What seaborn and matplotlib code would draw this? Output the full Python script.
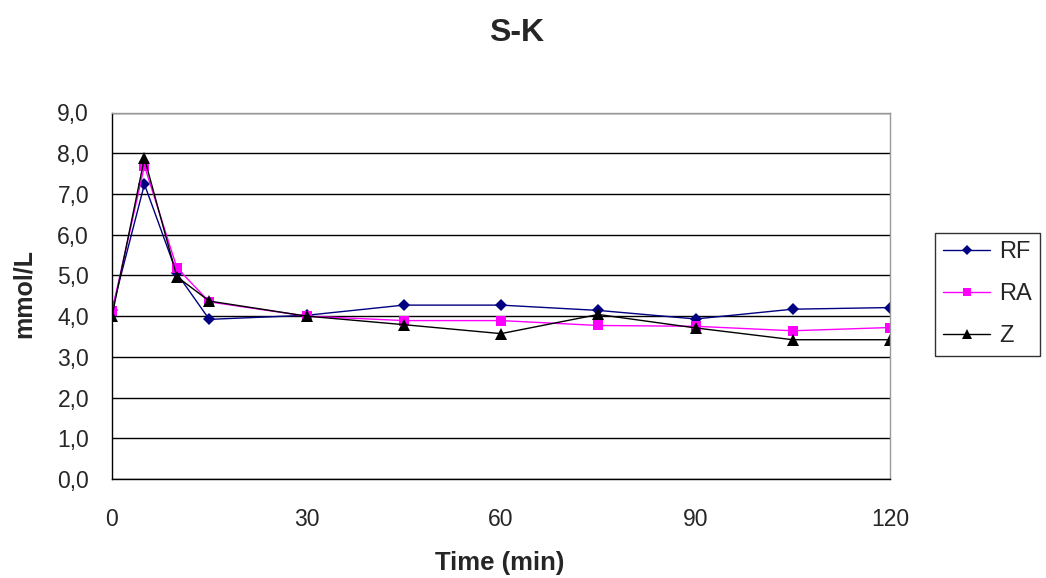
import matplotlib
matplotlib.use("Agg")
import matplotlib.pyplot as plt
import seaborn as sns
import pandas as pd

time_min = [0, 5, 10, 15, 30, 45, 60, 75, 90, 105, 120]
rf = [4.15, 7.24, 5.05, 3.92, 4.02, 4.27, 4.27, 4.14, 3.93, 4.17, 4.21]
ra = [4.12, 7.69, 5.19, 4.35, 4.0, 3.89, 3.89, 3.77, 3.75, 3.64, 3.72]
z = [4.0, 7.88, 4.97, 4.37, 4.0, 3.79, 3.57, 4.04, 3.71, 3.42, 3.42]
series_names = ["RF", "RA", "Z"]
y_ticks = [0, 1, 2, 3, 4, 5, 6, 7, 8, 9]
x_ticks = [0, 30, 60, 90, 120]

df = pd.concat([
    pd.DataFrame({"Time": time_min, "Value": vals, "Series": name})
    for name, vals in zip(series_names, [rf, ra, z])
])

sns.set_theme(style="white")
plt.rcParams["font.family"] = ["Liberation Sans", "DejaVu Sans"]

W, H = 1046, 578
fig = plt.figure(figsize=(W / 100, H / 100), dpi=100)
left, right, top, bottom = 112, 890, 112.5, 479
ax = fig.add_axes([left / W, 1 - bottom / H, (right - left) / W, (bottom - top) / H])

palette = {"RF": "#000080", "RA": "#FF00FF", "Z": "#000000"}
markers = {"RF": "D", "RA": "s", "Z": "^"}
sizes = {"RF": 6.5, "RA": 7, "Z": 8.5}
for name in series_names:
    sub = df[df["Series"] == name]
    sns.lineplot(data=sub, x="Time", y="Value", ax=ax, color=palette[name],
                 marker=markers[name], markersize=sizes[name], markeredgewidth=0,
                 linewidth=1.0, label=name)

ax.set_xlim(0, 120)
ax.set_ylim(0, 9)
ax.set_yticks(y_ticks)
ax.set_yticklabels([f"{v:.1f}".replace(".", ",") for v in y_ticks], fontsize=16.5)
ax.set_xticks(x_ticks)
ax.set_xticklabels([str(v) for v in x_ticks], fontsize=16.5)
ax.tick_params(axis="y", direction="out", length=6.5, width=1, color="black", pad=10)
ax.tick_params(axis="x", direction="out", length=6, width=1, color="black", pad=15)
ax.yaxis.grid(True, color="black", linewidth=1.0)
ax.set_axisbelow(True)

for side in ["left", "bottom"]:
    ax.spines[side].set_color("black")
    ax.spines[side].set_linewidth(1.0)
for side in ["top", "right"]:
    ax.spines[side].set_color("#999999")
    ax.spines[side].set_linewidth(1.0)

ax.set_xlabel("")
ax.set_ylabel("")
fig.text(500 / W, 1 - 563 / H, "Time (min)", ha="center", va="center", fontsize=18.5, fontweight="bold")
fig.text(24 / W, 1 - 294 / H, "mmol/L", ha="center", va="center", rotation=90, fontsize=18, fontweight="bold")
fig.text(517 / W, 1 - 33 / H, "S-K", ha="center", va="center", fontsize=23, fontweight="bold")

leg = ax.legend(loc="upper left", bbox_to_anchor=(935 / W, 1 - 233 / H),
                bbox_transform=fig.transFigure, frameon=True, fontsize=17,
                handlelength=2.0, borderpad=0.35, labelspacing=0.85, handletextpad=0.35,
                borderaxespad=0, fancybox=False, markerscale=0.8)
leg.get_frame().set_edgecolor("black")
leg.get_frame().set_linewidth(1.0)

fig.savefig("out.png", dpi=100, facecolor="white")
